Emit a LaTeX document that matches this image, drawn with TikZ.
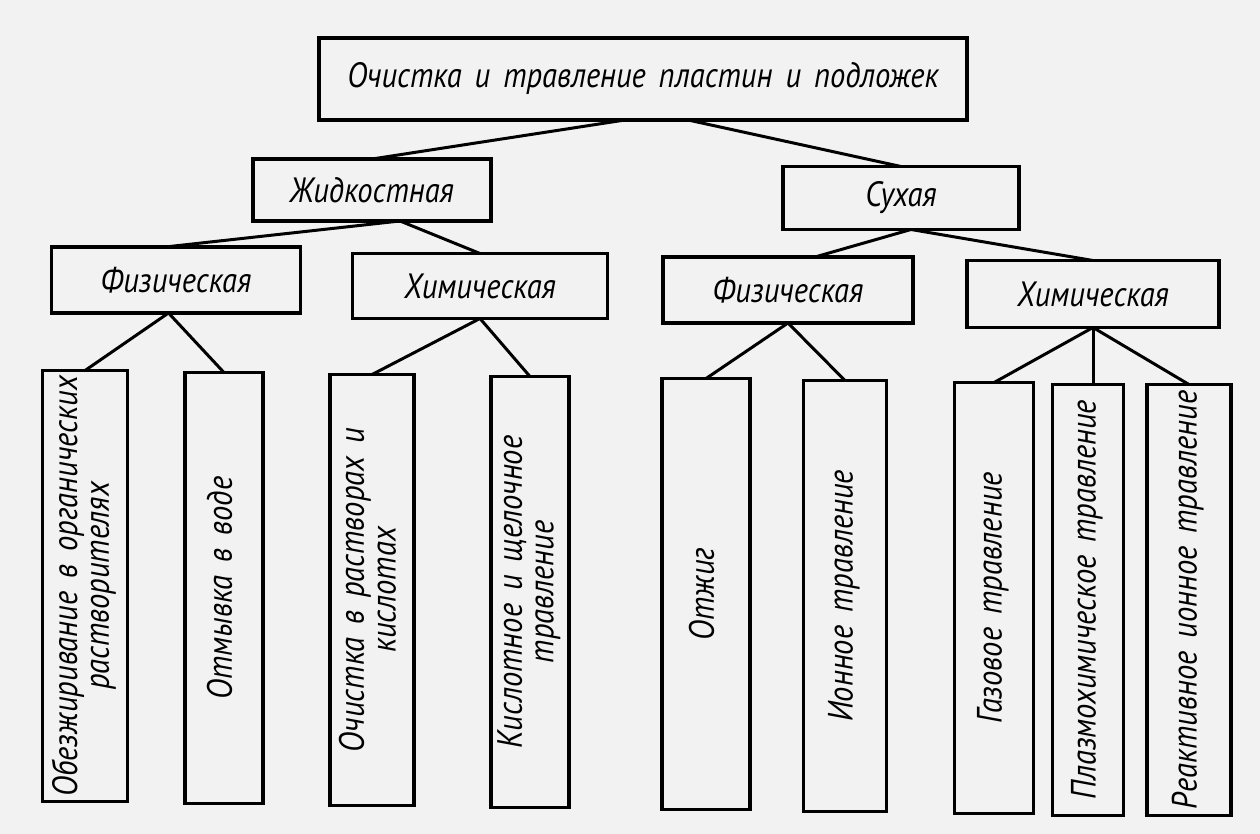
\documentclass[tikz,border=0pt]{standalone}
\usepackage{fontspec}
\setmainfont{PT Sans}[FakeStretch=0.87,WordSpace=1.6]
\usepackage{graphicx}
\newcommand{\vtext}[1]{\rotatebox{90}{\begin{tabular}{@{}c@{}}#1\end{tabular}}}
\begin{document}
\begin{tikzpicture}[x=0.02cm,y=-0.02cm,
    box/.style={draw,line width=2.1pt,inner sep=0pt,outer sep=0pt,
      font=\itshape\fontsize{20}{18}\selectfont},
    tall/.style={box,minimum height=8.62cm},
    link/.style={line width=1.7pt}]
  \fill[black!5] (0,0) rectangle (1260,834);
  \useasboundingbox (0,0) rectangle (1260,834);

  % Корень
  \node[box,minimum width=12.96cm,minimum height=1.64cm] (root) at (643,79)
    {Очистка и травление пластин и подложек};

  % Второй уровень
  \node[box,minimum width=4.76cm,minimum height=1.24cm] (liq) at (372,190) {Жидкостная};
  \node[box,minimum width=4.72cm,minimum height=1.26cm] (dry) at (901,198) {Сухая};

  % Третий уровень
  \node[box,minimum width=4.98cm,minimum height=1.32cm] (physL) at (176,280) {Физическая};
  \node[box,minimum width=5.10cm,minimum height=1.30cm] (chemL) at (480,286) {Химическая};
  \node[box,minimum width=5.00cm,minimum height=1.32cm] (physR) at (788,290) {Физическая};
  \node[box,minimum width=5.04cm,minimum height=1.34cm] (chemR) at (1093,294) {Химическая};

  % Методы
  \node[tall,minimum width=1.70cm] (degrease) at (85,586)
    {\vtext{Обезжиривание в органических\\растворителях}};
  \node[tall,minimum width=1.56cm] (water) at (224,588) {\vtext{Отмывка в воде}};
  \node[tall,minimum width=1.68cm] (acids) at (372,590)
    {\vtext{Очистка в растворах и\\кислотах}};
  \node[tall,minimum width=1.56cm] (alkali) at (530,592)
    {\vtext{Кислотное и щелочное\\травление}};
  \node[tall,minimum width=1.76cm] (anneal) at (706,594) {\vtext{Отжиг}};
  \node[tall,minimum width=1.66cm] (ion) at (845,596) {\vtext{Ионное травление}};
  \node[tall,minimum width=1.58cm] (gas) at (994,598) {\vtext{Газовое травление}};
  \node[tall,minimum width=1.42cm] (plasma) at (1088,600) {\vtext{Плазмохимическое травление}};
  \node[tall,minimum width=1.68cm] (rie) at (1189,600) {\vtext{Реактивное ионное травление}};

  % Связи
  \draw[link] ([xshift=-0.36cm]root.south) -- (liq.north);
  \draw[link] ([xshift=0.9cm]root.south) -- (dry.north);
  \draw[link] ([xshift=0.56cm]liq.south) -- ([xshift=-0.22cm]physL.north);
  \draw[link] ([xshift=0.56cm]liq.south) -- (chemL.north);
  \draw[link] ([xshift=0.2cm]dry.south) -- ([xshift=0.54cm]physR.north);
  \draw[link] ([xshift=0.2cm]dry.south) -- (chemR.north);
  \draw[link] ([xshift=-0.15cm]physL.south) -- (degrease.north);
  \draw[link] ([xshift=-0.15cm]physL.south) -- (water.north);
  \draw[link] (chemL.south) -- (acids.north);
  \draw[link] (chemL.south) -- (alkali.north);
  \draw[link] (physR.south) -- (anneal.north);
  \draw[link] (physR.south) -- (ion.north);
  \draw[link] (chemR.south) -- (gas.north);
  \draw[link] (chemR.south) -- (chemR.south |- plasma.north);
  \draw[link] (chemR.south) -- (rie.north);
\end{tikzpicture}
\end{document}
